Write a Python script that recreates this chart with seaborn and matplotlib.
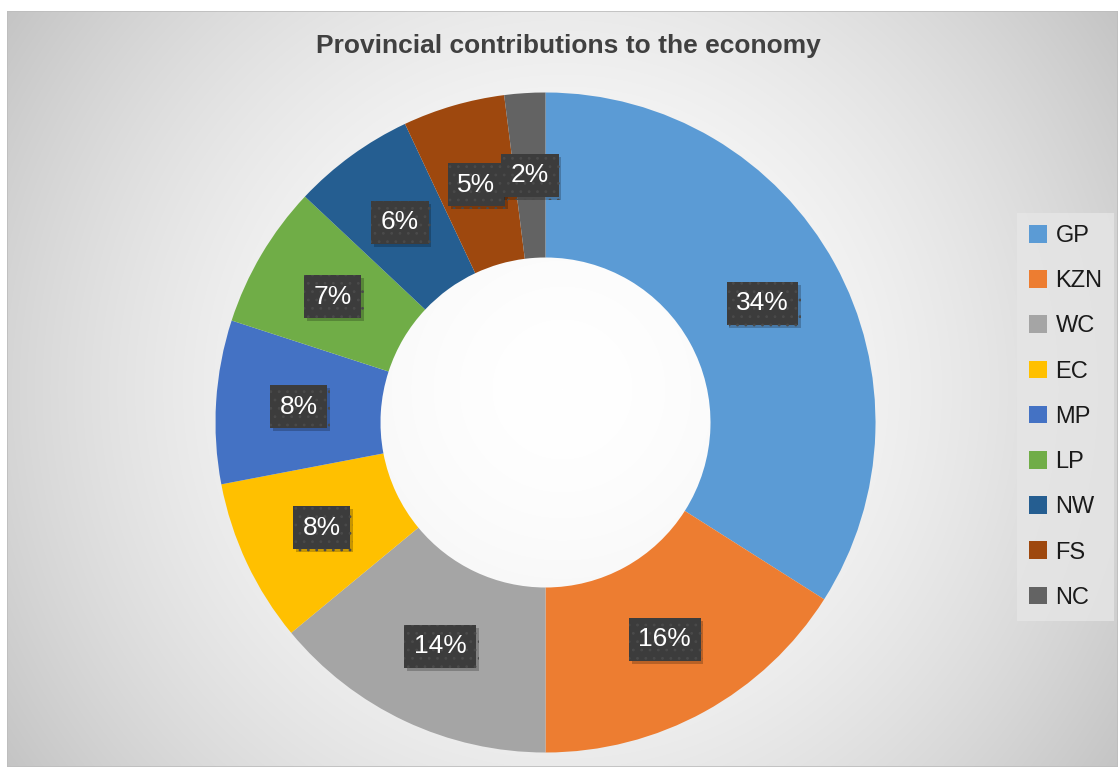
import numpy as np
import matplotlib
matplotlib.use("Agg")
import matplotlib.pyplot as plt
import matplotlib.patheffects as pe
from matplotlib.patches import Rectangle
import seaborn as sns

# Provincial shares of the economy (%)
provinces = ["GP", "KZN", "WC", "EC", "MP", "LP", "NW", "FS", "NC"]
shares = [34, 16, 14, 8, 8, 7, 6, 5, 2]
province_colors = ["#5B9BD5", "#ED7D31", "#A5A5A5", "#FFC000", "#4472C4",
                   "#70AD47", "#255E91", "#9E480E", "#636363"]
title = "Provincial contributions to the economy"

sns.set_theme(style="white")
plt.rcParams["font.family"] = ["Liberation Sans", "DejaVu Sans"]
plt.rcParams["hatch.linewidth"] = 0.8
palette = sns.color_palette(province_colors)

W, H = 1118, 767
fig = plt.figure(figsize=(W / 100, H / 100), dpi=100)
fig.patch.set_facecolor("white")

# chart area with a soft radial gradient
x0, y0 = 7, 11
bw, bh = W - x0, H - y0
bg = fig.add_axes([x0 / W, 0, bw / W, bh / H])
yy, xx = np.mgrid[0:bh, 0:bw]
cx, cy = 555, 378
r = np.hypot(xx - cx, yy - cy) / np.hypot(cx, cy)
val = 1.0 - (1.0 - 0.77) * np.clip(r, 0, 1) ** 1.8
bg.imshow(np.dstack([val] * 3), extent=[0, 1, 0, 1], aspect="auto",
          interpolation="bilinear", origin="upper")
bg.add_patch(Rectangle((0, 0), 1, 1, transform=bg.transAxes, fill=False,
                       edgecolor="#bdbdbd", linewidth=1.2))
bg.set_axis_off()

# doughnut
pcx, pcy, rad = 545.5, 422.5, 330
ax = fig.add_axes([(pcx - rad) / W, (H - pcy - rad) / H, 2 * rad / W, 2 * rad / H])
ax.set_facecolor("none")
wedges, _ = ax.pie(shares, colors=palette, startangle=90, counterclock=False,
                   radius=1.0, wedgeprops=dict(width=0.5, linewidth=0))
ax.set_xlim(-1, 1)
ax.set_ylim(-1, 1)
ax.set_axis_off()

# value labels on dark boxes
total = float(sum(shares))
cum = 0.0
for v in shares:
    mid = cum + v / 2.0
    cum += v
    ang = np.deg2rad(90 - 360 * mid / total)
    t = ax.text(0.75 * np.cos(ang), 0.75 * np.sin(ang), f"{v}%",
                ha="center", va="center", color="white", fontsize=19,
                bbox=dict(boxstyle="square,pad=0.36", facecolor="#3c3c3c",
                          edgecolor="#4a4a4a", linewidth=0.0, hatch=".."))
    t.get_bbox_patch().set_path_effects(
        [pe.SimplePatchShadow(offset=(2, -2), shadow_rgbFace="black", alpha=0.22),
         pe.Normal()])

# title
fig.text(568 / W, 1 - 46 / H, title, ha="center", va="center",
         fontsize=19, fontweight="bold", color="#404040")

# legend
handles = [Rectangle((0, 0), 1, 1, facecolor=c, edgecolor="none") for c in palette]
leg = fig.legend(handles, provinces, loc="upper left",
                 bbox_to_anchor=(1017 / W, 1 - 213 / H),
                 frameon=True, fontsize=17, handlelength=0.78, handleheight=0.78,
                 handletextpad=0.35, labelspacing=0.98, borderpad=0.5,
                 borderaxespad=0)
leg.get_frame().set_facecolor("#e6e6e6")
leg.get_frame().set_edgecolor("none")
leg.get_frame().set_boxstyle("square", pad=0)
for txt in leg.get_texts():
    txt.set_color("#1a1a1a")

fig.savefig("out.png", dpi=100)
